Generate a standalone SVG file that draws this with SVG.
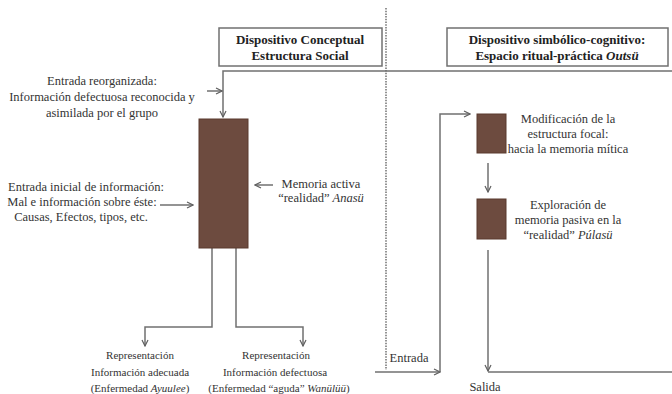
<svg xmlns="http://www.w3.org/2000/svg" width="672" height="394" viewBox="0 0 672 394">
<defs>
<style>
text{font-family:'Liberation Serif','DejaVu Serif',serif}
.t{font-size:12.5px;fill:#333;text-anchor:middle}
.s{font-size:11px;fill:#333;text-anchor:middle}
.h{font-size:13px;font-weight:bold;fill:#222;text-anchor:middle}
.ln{fill:none;stroke:#707070;stroke-width:1.5}
.box{fill:#fff;stroke:#707070;stroke-width:1.5}
.br{fill:#6d4b3f;stroke:#5a3a2f;stroke-width:1}
</style>
<marker id="ah" viewBox="0 0 8 8" refX="7" refY="4" markerWidth="8" markerHeight="8" markerUnits="userSpaceOnUse" orient="auto">
<path d="M1,1 L7,4 L1,7" fill="none" stroke="#606060" stroke-width="1.2"/>
</marker>
</defs>
<rect width="672" height="394" fill="#fff"/>
<g id="connectors">
<path class="ln" d="M386,8 V370" stroke-dasharray="1.5,1.2" stroke="#888"/>
<path class="ln" d="M672,71 H223 V117" marker-end="url(#ah)"/>
<path class="ln" d="M207,91 H222" marker-end="url(#ah)"/>
<path class="ln" d="M160,205 H193" marker-end="url(#ah)"/>
<path class="ln" d="M273,185 H255" marker-end="url(#ah)"/>
<path class="ln" d="M212,248 V327 H145 V346" marker-end="url(#ah)"/>
<path class="ln" d="M236,248 V327 H303 V346" marker-end="url(#ah)"/>
<path class="ln" d="M375,372 H440" marker-end="url(#ah)"/>
<path class="ln" d="M440,372 V114 H470" marker-end="url(#ah)"/>
<path class="ln" d="M488,163 V192" marker-end="url(#ah)"/>
<path class="ln" d="M488,250 V371" marker-end="url(#ah)"/>
<path class="ln" d="M488,372 H672"/>
</g>
<g id="box-conceptual">
<rect class="box" x="219" y="28" width="163" height="38"/>
<text class="h" x="300" y="44">Dispositivo  Conceptual</text>
<text class="h" x="300" y="60">Estructura Social</text>
</g>
<g id="box-simbolico">
<rect class="box" x="447" y="28" width="221" height="38"/>
<text class="h" x="557" y="44">Dispositivo  simbólico-cognitivo:</text>
<text class="h" x="557" y="60">Espacio ritual-práctica <tspan font-style="italic">Outsü</tspan></text>
</g>
<g id="entrada-reorganizada">
<text class="t" x="102" y="85">Entrada reorganizada:</text>
<text class="t" x="102" y="101">Información defectuosa reconocida y</text>
<text class="t" x="102" y="117">asimilada por el grupo</text>
</g>
<g id="estructura-social">
<rect class="br" x="199" y="119" width="49" height="129"/>
</g>
<g id="entrada-inicial">
<text class="t" x="86" y="191">Entrada inicial  de información:</text>
<text class="t" x="82" y="206">Mal e información sobre éste:</text>
<text class="t" x="81" y="221">Causas, Efectos, tipos, etc.</text>
</g>
<g id="memoria-activa">
<text class="t" x="321" y="188">Memoria activa</text>
<text class="t" x="321" y="202">“realidad” <tspan font-style="italic">Anasü</tspan></text>
</g>
<g id="rep-adecuada">
<text class="s" x="140" y="359">Representación</text>
<text class="s" x="140" y="376">Información adecuada</text>
<text class="s" x="140" y="392">(Enfermedad <tspan font-style="italic">Ayuulee</tspan>)</text>
</g>
<g id="rep-defectuosa">
<text class="s" x="276" y="359">Representación</text>
<text class="s" x="275" y="376">Información defectuosa</text>
<text class="s" x="279" y="392">(Enfermedad “aguda” <tspan font-style="italic">Wanülüü</tspan>)</text>
</g>
<g id="modificacion">
<rect class="br" x="477" y="114" width="29" height="39"/>
<text class="t" x="568" y="123">Modificación de la</text>
<text class="t" x="568" y="138">estructura focal:</text>
<text class="t" x="568" y="153">hacia la memoria mítica</text>
</g>
<g id="exploracion">
<rect class="br" x="477" y="199" width="29" height="40"/>
<text class="t" x="568" y="209">Exploración de</text>
<text class="t" x="568" y="224">memoria pasiva en la</text>
<text class="t" x="568" y="239">“realidad” <tspan font-style="italic">Púlasü</tspan></text>
</g>
<g id="entrada">
<text class="t" x="409" y="362">Entrada</text>
</g>
<g id="salida">
<text class="t" x="485" y="391">Salida</text>
</g>
</svg>
